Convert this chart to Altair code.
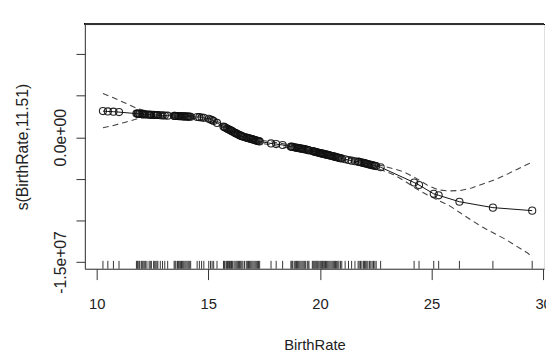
import altair as alt
import pandas as pd

# Birth rates (rug / data points) and fitted smooth values (in units of 1e6)
birth_rate = [
    10.28, 10.5, 10.75, 11.0,
    11.78, 11.82, 11.85, 11.9, 11.93, 12.0, 12.04, 12.08, 12.13, 12.18,
    12.25, 12.35, 12.4, 12.45, 12.55, 12.6, 12.65, 12.7, 12.74,
    12.85, 12.95, 13.05, 13.18,
    13.47, 13.51, 13.55, 13.62, 13.66, 13.7, 13.75, 13.8, 13.85, 13.9,
    13.95, 14.0, 14.05, 14.1, 14.15, 14.21,
    14.5, 14.6, 14.7, 14.8,
    15.02, 15.1, 15.17, 15.24,
    15.39,
    15.68, 15.72, 15.75, 15.82, 15.86, 15.9, 15.95, 16.0, 16.04, 16.08,
    16.15, 16.2, 16.25, 16.3, 16.35, 16.4, 16.45, 16.5, 16.55, 16.62,
    16.7, 16.75, 16.8, 16.85, 16.9, 16.95, 17.0, 17.05, 17.1, 17.15,
    17.2, 17.25, 17.3,
    17.81, 18.04, 18.33,
    18.7, 18.74, 18.78, 18.85, 18.9, 18.95, 19.0, 19.05, 19.1, 19.15,
    19.2, 19.25, 19.3, 19.35, 19.43, 19.47, 19.51,
    19.66, 19.7, 19.74, 19.78, 19.82, 19.86, 19.9, 19.95, 20.0, 20.04,
    20.08, 20.12, 20.15, 20.2, 20.25, 20.3, 20.35, 20.4, 20.45, 20.5,
    20.55, 20.6, 20.65, 20.7, 20.75, 20.8, 20.85, 20.92, 20.98,
    21.13, 21.28, 21.42, 21.57,
    21.71, 21.76, 21.82, 21.88, 21.95, 22.0, 22.05, 22.1, 22.15, 22.22,
    22.28, 22.34, 22.4, 22.46, 22.52,
    22.72,
    24.22, 24.44, 25.1, 25.32, 26.25, 27.75, 29.51,
]
fit_e6 = [
    3.14, 3.10, 3.07, 3.02,
    2.84, 2.84, 2.83, 2.82, 2.81, 2.80, 2.79, 2.77, 2.76, 2.75,
    2.73, 2.71, 2.70, 2.69, 2.68, 2.67, 2.67, 2.67, 2.67,
    2.64, 2.62, 2.61, 2.59,
    2.56, 2.56, 2.55, 2.55, 2.54, 2.54, 2.53, 2.52, 2.51, 2.50,
    2.50, 2.49, 2.48, 2.48, 2.47, 2.46,
    2.43, 2.41, 2.37, 2.33,
    2.22, 2.13, 2.05, 1.95,
    1.72,
    1.29, 1.23, 1.17, 1.07, 1.01, 0.95, 0.89, 0.83, 0.76, 0.70,
    0.59, 0.52, 0.45, 0.38, 0.32, 0.25, 0.19, 0.13, 0.08, 0.02,
    -0.04, -0.08, -0.12, -0.16, -0.20, -0.24, -0.27, -0.31, -0.36, -0.40,
    -0.44, -0.47, -0.51,
    -0.75, -0.83, -0.94,
    -1.14, -1.15, -1.17, -1.21, -1.24, -1.27, -1.29, -1.32, -1.34, -1.36,
    -1.39, -1.41, -1.44, -1.47, -1.52, -1.55, -1.58,
    -1.67, -1.69, -1.72, -1.75, -1.78, -1.81, -1.84, -1.87, -1.91, -1.93,
    -1.96, -1.98, -2.00, -2.03, -2.07, -2.10, -2.13, -2.16, -2.20, -2.23,
    -2.27, -2.30, -2.33, -2.37, -2.41, -2.44, -2.48, -2.52, -2.56,
    -2.65, -2.74, -2.82, -2.89,
    -2.94, -2.97, -3.01, -3.05, -3.09, -3.12, -3.16, -3.19, -3.23, -3.28,
    -3.33, -3.36, -3.40, -3.44, -3.47,
    -3.61,
    -5.45, -5.75, -6.81, -6.99, -7.76, -8.47, -8.83,
]

# Confidence band (units of 1e6)
band_x = [10.28, 10.75, 11.25, 11.78, 12.3, 12.8, 13.5, 14.2, 14.8, 15.24,
          15.7, 16.2, 16.7, 17.3, 18.0, 18.7, 19.5, 20.2, 21.0, 21.7,
          22.3, 22.8, 23.3, 23.8, 24.3, 24.8, 25.3, 25.8, 26.3, 26.8,
          27.3, 27.8, 28.3, 28.8, 29.3, 29.51]
band_upper_e6 = [5.27, 4.74, 4.15, 3.50, 3.08, 2.87, 2.74, 2.64, 2.51, 2.13,
                 1.46, 0.69, 0.14, -0.33, -0.63, -0.94, -1.40, -1.86, -2.38, -2.76,
                 -3.14, -3.44, -3.79, -4.21, -4.92, -5.75, -6.34, -6.46, -6.40, -6.10,
                 -5.63, -5.15, -4.56, -3.91, -3.26, -3.02]
band_lower_e6 = [1.13, 1.42, 1.78, 2.19, 2.43, 2.49, 2.38, 2.29, 2.16, 1.78,
                 1.10, 0.34, -0.21, -0.69, -1.03, -1.34, -1.75, -2.22, -2.74, -3.12,
                 -3.52, -3.97, -4.50, -5.27, -6.16, -6.93, -7.58, -8.23, -9.12, -10.01,
                 -10.84, -11.55, -12.26, -13.09, -13.92, -14.40]

x_ticks = [10, 15, 20, 25, 30]
y_ticks = [-15000000, -10000000, -5000000, 0, 5000000, 10000000]

pts = pd.DataFrame({"BirthRate": birth_rate, "fit": [v * 1e6 for v in fit_e6]})
band = pd.DataFrame({
    "BirthRate": band_x * 2,
    "value": [v * 1e6 for v in band_upper_e6] + [v * 1e6 for v in band_lower_e6],
    "side": ["upper"] * len(band_x) + ["lower"] * len(band_x),
})

FONT = "Liberation Sans"
W, H = 466, 248

xscale = alt.Scale(domain=[9.47, 30.04], nice=False, zero=False)
yscale = alt.Scale(domain=[-15820000, 13570000], nice=False, zero=False)

x_axis = alt.Axis(
    values=x_ticks, title="BirthRate", grid=False,
    domainColor="#333", tickColor="#333", tickSize=11,
    labelFont=FONT, labelFontSize=15, labelColor="#222", labelPadding=17,
    labelFlush=False, labelOverlap=False,
    titleFont=FONT, titleFontSize=15, titleFontWeight="normal", titleColor="#222",
    titlePadding=27,
)
y_axis = alt.Axis(
    values=y_ticks, title="s(BirthRate,11.51)", grid=False,
    domainColor="#333", tickColor="#333", tickSize=9,
    labelExpr="datum.value == 0 ? '0.0e+00' : (datum.value == -15000000 ? '-1.5e+07' : '')",
    labelAngle=270, labelAlign="center", labelBaseline="bottom",
    labelFont=FONT, labelFontSize=16, labelColor="#222", labelPadding=8,
    labelFlush=False, labelOverlap=False,
    titleFont=FONT, titleFontSize=16, titleFontWeight="normal", titleColor="#222",
    titlePadding=22,
)

bands = alt.Chart(band).mark_line(
    color="#444", strokeDash=[6, 4], strokeWidth=1.1
).encode(
    x=alt.X("BirthRate:Q", scale=xscale, axis=x_axis),
    y=alt.Y("value:Q", scale=yscale, axis=y_axis),
    detail="side:N",
)

line = alt.Chart(pts).mark_line(color="#111", strokeWidth=1).encode(
    x=alt.X("BirthRate:Q", scale=xscale),
    y=alt.Y("fit:Q", scale=yscale),
)

circles = alt.Chart(pts).mark_point(
    shape="circle", filled=False, color="#111", size=52, strokeWidth=1.1, opacity=0.9
).encode(
    x=alt.X("BirthRate:Q", scale=xscale),
    y=alt.Y("fit:Q", scale=yscale),
)

rug = alt.Chart(pts).mark_rule(color="#333", strokeWidth=1).encode(
    x=alt.X("BirthRate:Q", scale=xscale),
    y=alt.value(H - 8),
    y2=alt.value(H),
)

top_border = alt.Chart(pts).mark_rule(color="#333", strokeWidth=1).encode(
    x=alt.value(0), x2=alt.value(W), y=alt.value(0)
)

chart = alt.layer(bands, line, circles, rug, top_border).properties(
    width=W, height=H,
    autosize=alt.AutoSizeParams(type="none"),
    padding={"left": 78, "top": 14, "right": 2, "bottom": 91},
).configure_view(stroke=None).configure(background="white")

chart.save("out.html", embed_options={"renderer": "svg", "actions": False})
